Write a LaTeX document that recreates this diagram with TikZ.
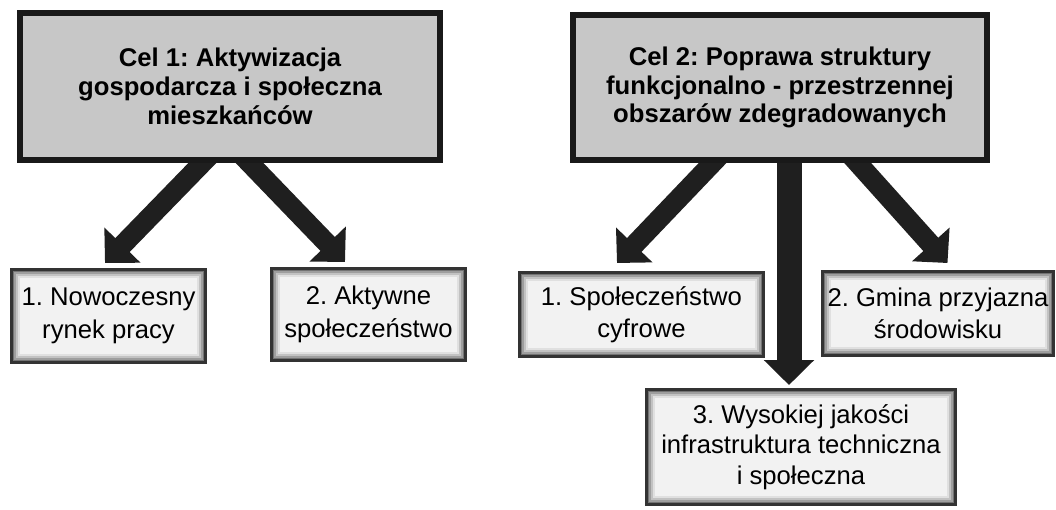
\documentclass[tikz,border=0pt]{standalone}
\usepackage{fontspec}
\setmainfont{Liberation Sans}
\usetikzlibrary{arrows.meta,calc,backgrounds}
\frenchspacing

\tikzset{
  celbox/.style={draw=black!90, fill=black!22, line width=0.12cm, align=center, inner sep=0pt,
    font=\bfseries\fontsize{14.6}{16.4}\selectfont},
  glow/.style={path picture={
    \foreach \d/\c in {2/55,4/38,6/24,8/12}
      \draw[black!\c, line width=0.045cm] ($(path picture bounding box.north west)+(\d,\d)$) rectangle ($(path picture bounding box.south east)+(-\d,-\d)$);
  }},
  taskbox/.style={draw=black!80, fill=black!5, line width=0.05cm, align=center, inner sep=0pt, glow,
    font=\fontsize{14.6}{18.5}\selectfont},
  fatarrow/.style={draw=black!88, line width=0.4cm, -{Triangle[width=0.98cm,length=0.5cm]}},
}

\begin{document}
\begin{tikzpicture}[x=0.02cm, y=-0.02cm]
			%%%%% START %%%%%
			\useasboundingbox (0,0) rectangle (1056,510);
			
			\node[celbox, minimum width=8.4cm, minimum height=2.94cm] (c1) at (230, 86.5) {Cel 1: Aktywizacja\\gospodarcza i społeczna\\mieszkańców};
			\node[celbox, minimum width=8.28cm, minimum height=2.9cm] (c2) at (780, 87.5) {Cel 2: Poprawa struktury\\funkcjonalno - przestrzennej\\obszarów zdegradowanych};
			
			\node[taskbox, minimum width=3.89cm, minimum height=1.87cm] (b11) at (108.5, 316) {1. Nowoczesny\\rynek pracy};
			\node[taskbox, minimum width=3.89cm, minimum height=1.85cm] (b12) at (368.5, 314.5) {2. Aktywne\\społeczeństwo};
			
			\node[taskbox, minimum width=4.89cm, minimum height=1.69cm] (b21) at (641.5, 314.5) {1. Społeczeństwo\\cyfrowe};
			\node[taskbox, minimum width=4.63cm, minimum height=1.69cm] (b22) at (938, 313.5) {2. Gmina przyjazna\\środowisku};
			\node[taskbox, minimum width=6.19cm, minimum height=2.31cm, font=\fontsize{14.6}{17.2}\selectfont] (b23) at (801, 447) {3. Wysokiej jakości\\infrastruktura techniczna\\i społeczna};
			
			\begin{scope}[on background layer]
				\draw[fatarrow] ($(c1.south)+(-15,-13)$) -- ($(b11.north)+(-3.5,-5)$);
				\draw[fatarrow] ($(c1.south)+(7,-13)$) -- ($(b12.north)+(-23.5,-5)$);
				
				\draw[fatarrow] ($(c2.south)+(-55,-13)$) -- ($(b21.north)+(-24.5,-8)$);
				\draw[fatarrow] ($(c2.south)+(66,-13)$) -- ($(b22.north)+(9.5,-7)$);
				\draw[fatarrow, line width=0.5cm] ($(c2.south)+(9,-13)$) -- ($(b23.north)+(-12,-3)$);
			\end{scope}
			
			%%%%% END %%%%%
\end{tikzpicture}
\end{document}
